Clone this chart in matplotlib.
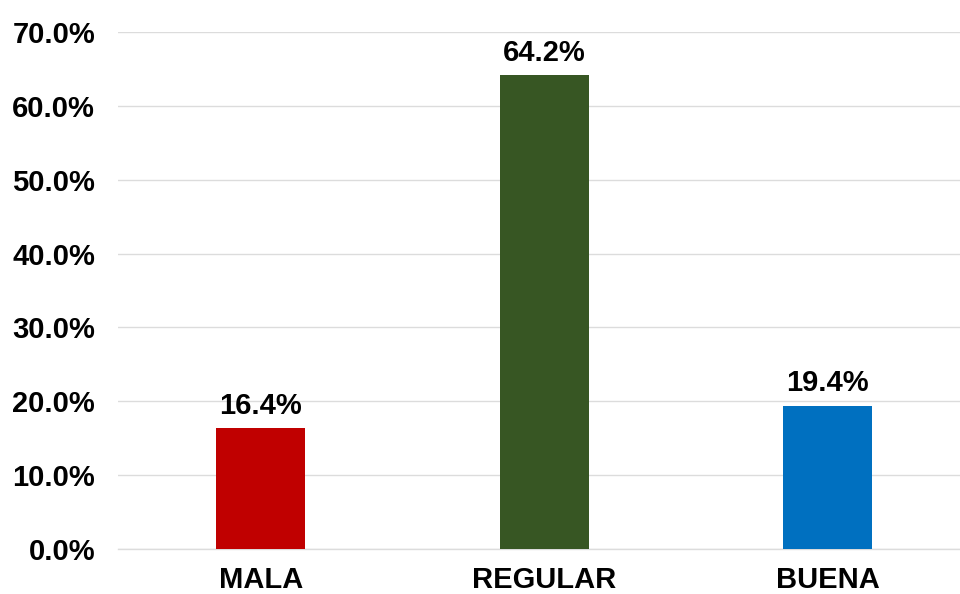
import matplotlib.pyplot as plt
import numpy as np

plt.rcParams['font.family'] = ['Liberation Sans', 'DejaVu Sans']
plt.rcParams['font.weight'] = 'bold'

categories = ['MALA', 'REGULAR', 'BUENA']
values = [16.4, 64.2, 19.4]
colors = ['#C00000', '#375623', '#0070C0']
yticks = [0, 10, 20, 30, 40, 50, 60, 70]


def plotBars():
    fig = plt.figure(figsize=(9.6, 5.94), dpi=100)
    ax = fig.add_axes([0.123, 0.0758, 0.877, 0.8703])
    x = np.arange(len(categories))
    bars = ax.bar(x, values, width=0.314, color=colors, zorder=3)

    for bar, val in zip(bars, values):
        ax.annotate(f'{val:.1f}%', (bar.get_x() + bar.get_width() / 2, val),
                    xytext=(0, 6), textcoords='offset points',
                    ha='center', va='bottom', fontsize=21, fontweight='bold')

    ax.set_xlim(-0.504, 2.466)
    ax.set_ylim(0, 70)
    ax.set_yticks(yticks)
    ax.set_yticklabels([f'{t:.1f}%' for t in yticks], fontsize=21, fontweight='bold')
    ax.set_xticks(x)
    ax.set_xticklabels(categories, fontsize=21, fontweight='bold')
    ax.tick_params(axis='both', length=0)
    ax.tick_params(axis='y', pad=16.5)
    ax.tick_params(axis='x', pad=12)
    ax.grid(axis='y', color='#DCDCDC', linewidth=1.0, zorder=0)
    ax.axhline(0, color='#DCDCDC', linewidth=1.0, zorder=1, clip_on=False)
    for s in ax.spines.values():
        s.set_visible(False)

    fig.savefig('out.png', dpi=100)


if __name__ == "__main__":
    plotBars()
